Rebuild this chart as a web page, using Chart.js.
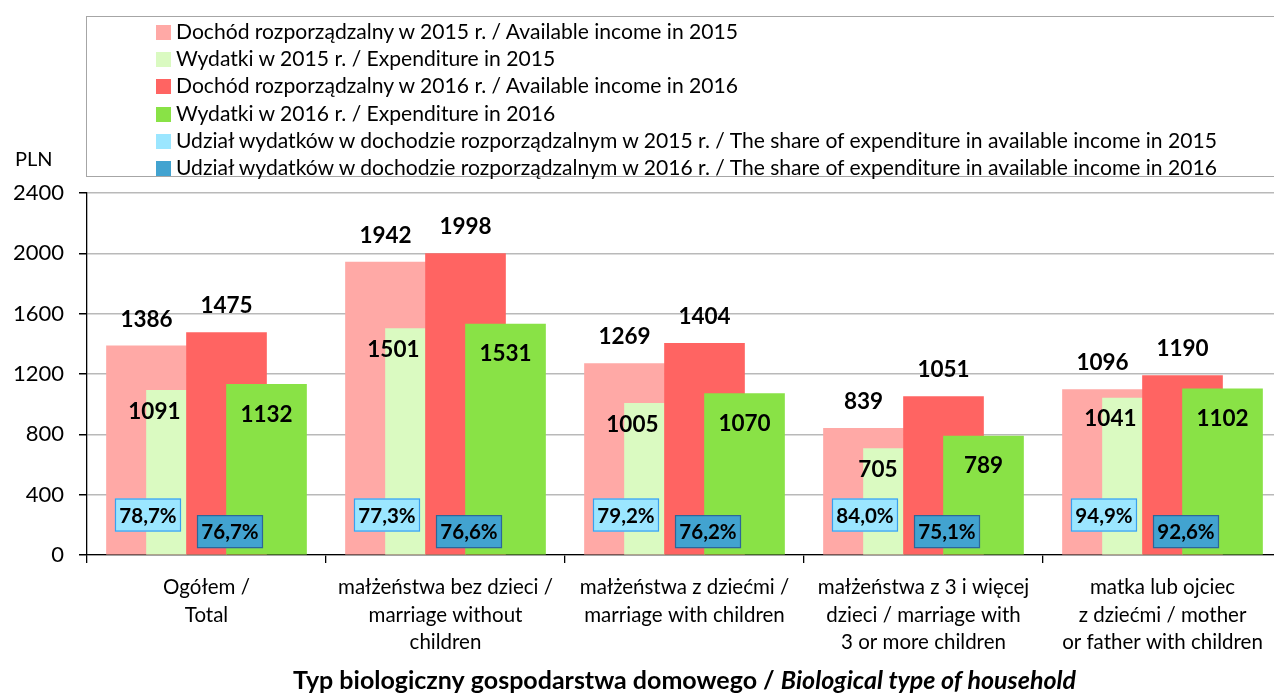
<!DOCTYPE html>
<html>
<head>
<meta charset="utf-8">
<script src="https://cdn.jsdelivr.net/npm/chart.js@4"></script>
<style>
  html, body { margin:0; padding:0; background:#fff; overflow:hidden; }
  #wrap { position:relative; width:1284px; height:695px; }
  #legend { position:absolute; left:86px; top:16px; width:1300px; height:161px; border:1px solid #a6a6a6; box-sizing:border-box; font-family:Lato, "Open Sans", sans-serif; font-size:21.1px; color:#000; }
  .row { position:absolute; left:69px; height:27px; line-height:27px; white-space:nowrap; }
  .sw { display:inline-block; width:15px; height:15px; vertical-align:-1px; margin-right:5px; }
  canvas { position:absolute; left:0; top:0; }
</style>
</head>
<body>
<div id="wrap">
  <canvas id="c" width="1284" height="695"></canvas>
  <div id="legend"></div>
</div>
<script>
// ---- data ----
const categories = [
  ["Ogółem /", "Total"],
  ["małżeństwa bez dzieci /", "marriage without", "children"],
  ["małżeństwa z dziećmi /", "marriage with children"],
  ["małżeństwa z 3 i więcej", "dzieci / marriage with", "3 or more children"],
  ["matka lub ojciec", "z dziećmi / mother", "or father with children"]
];
const income2015 = [1386, 1942, 1269, 839, 1096];
const expend2015 = [1091, 1501, 1005, 705, 1041];
const income2016 = [1475, 1998, 1404, 1051, 1190];
const expend2016 = [1132, 1531, 1070, 789, 1102];
const share2015 = [78.7, 77.3, 79.2, 84.0, 94.9];
const share2016 = [76.7, 76.6, 76.2, 75.1, 92.6];
const yMin = 0, yMax = 2400, yStep = 400;

const seriesNames = [
  "Dochód rozporządzalny w 2015 r. / Available income in 2015",
  "Wydatki w 2015 r. / Expenditure in 2015",
  "Dochód rozporządzalny w 2016 r. / Available income in 2016",
  "Wydatki w 2016 r. / Expenditure in 2016",
  "Udział wydatków w dochodzie rozporządzalnym w 2015 r. / The share of expenditure in available income in 2015",
  "Udział wydatków w dochodzie rozporządzalnym w 2016 r. / The share of expenditure in available income in 2016"
];
const xTitleA = "Typ biologiczny gospodarstwa domowego / ";
const xTitleB = "Biological type of household";
const yUnit = "PLN";

// ---- styles ----
const C_PINK = '#FFA9A6', C_LGREEN = '#DAFAC1', C_RED = '#FF6462', C_GREEN = '#89E246';
const C_LBLUE = '#9BE6FF', C_LBLUE_B = '#3AA0EE', C_DBLUE = '#42A3D0', C_DBLUE_B = '#2D6699';
const FONT = 'Lato, "Open Sans", sans-serif';
const NARROW = '"Liberation Sans Narrow", "Arial Narrow", Lato, sans-serif';

// legend
const legendColors = [C_PINK, C_LGREEN, C_RED, C_GREEN, C_LBLUE, C_DBLUE];
const lg = document.getElementById('legend');
seriesNames.forEach((n, i) => {
  const r = document.createElement('div');
  r.className = 'row';
  r.style.top = (0 + i * 27.2) + 'px';
  const s = document.createElement('span');
  s.className = 'sw'; s.style.background = legendColors[i];
  r.appendChild(s);
  r.appendChild(document.createTextNode(n));
  lg.appendChild(r);
});

const step = 0.1674; // bar spacing in category units (40px of 239px)
const offs = [-1.5, -0.5, 0.5, 1.5].map(k => k * step);
const toXY = (arr, k) => arr.map((v, i) => ({ x: i + offs[k], y: v }));

const fmtPct = v => v.toFixed(1).replace('.', ',') + '%';

const labelPlugin = {
  id: 'labels',
  afterDatasetsDraw(chart) {
    const ctx = chart.ctx;
    const y = chart.scales.y;
    ctx.save();
    ctx.fillStyle = '#000';
    ctx.font = 'bold 22.5px ' + FONT;
    ctx.textBaseline = 'middle';
    const m0 = chart.getDatasetMeta(0), m1 = chart.getDatasetMeta(1), m2 = chart.getDatasetMeta(2), m3 = chart.getDatasetMeta(3);
    for (let i = 0; i < categories.length; i++) {
      ctx.textAlign = 'center';
      ctx.fillText(String(income2015[i]), m0.data[i].x, m0.data[i].y - 26.5);
      ctx.fillText(String(income2016[i]), m2.data[i].x, m2.data[i].y - 26.5);
      ctx.fillText(String(expend2016[i]), m3.data[i].x, m3.data[i].y + 30);
      ctx.textAlign = 'right';
      ctx.fillText(String(expend2015[i]), m1.data[i].x - 6, m1.data[i].y + 21);
    }
    // share boxes
    const drawBox = (cx, cy, txt, fill, stroke) => {
      const w = 66, h = 33;
      ctx.fillStyle = fill;
      ctx.fillRect(cx - w / 2, cy - h / 2, w, h);
      ctx.strokeStyle = stroke; ctx.lineWidth = 1.2;
      ctx.strokeRect(cx - w / 2 + 0.5, cy - h / 2 + 0.5, w - 1, h - 1);
      ctx.fillStyle = '#000';
      ctx.font = 'bold 20.5px ' + NARROW;
      ctx.textAlign = 'center';
      ctx.fillText(txt, cx, cy + 1);
    };
    const yl = y.getPixelForValue(265), yd = y.getPixelForValue(155);
    for (let i = 0; i < categories.length; i++) {
      drawBox(m0.data[i].x + 1.5, yl, fmtPct(share2015[i]), C_LBLUE, C_LBLUE_B);
      drawBox(m2.data[i].x + 3.5, yd, fmtPct(share2016[i]), C_DBLUE, C_DBLUE_B);
    }
    ctx.restore();
  },
  afterDraw(chart) {
    const ctx = chart.ctx, a = chart.chartArea;
    ctx.save();
    ctx.fillStyle = '#000';
    ctx.textBaseline = 'middle';
    ctx.textAlign = 'left';
    ctx.font = '20px ' + FONT;
    ctx.fillText(yUnit, 15, 160);
    const fs = 25;
    ctx.font = 'bold ' + fs + 'px ' + FONT;
    const wa = ctx.measureText(xTitleA).width;
    ctx.font = 'italic bold ' + fs + 'px ' + FONT;
    const wb = ctx.measureText(xTitleB).width;
    const x0 = (a.left + a.right) / 2 - (wa + wb) / 2;
    ctx.font = 'bold ' + fs + 'px ' + FONT;
    ctx.fillText(xTitleA, x0, 681);
    ctx.font = 'italic bold ' + fs + 'px ' + FONT;
    ctx.fillText(xTitleB, x0 + wa, 681);
    ctx.restore();
  }
};

new Chart(document.getElementById('c'), {
  type: 'bar',
  data: {
    labels: categories,
    datasets: [
      { label: seriesNames[0], data: toXY(income2015, 0), backgroundColor: C_PINK, order: 4 },
      { label: seriesNames[1], data: toXY(expend2015, 1), backgroundColor: C_LGREEN, order: 3 },
      { label: seriesNames[2], data: toXY(income2016, 2), backgroundColor: C_RED, order: 2 },
      { label: seriesNames[3], data: toXY(expend2016, 3), backgroundColor: C_GREEN, order: 1 }
    ].map(d => Object.assign(d, { xAxisID: 'xl', yAxisID: 'y', barThickness: 80, grouped: false, borderWidth: 0 }))
  },
  options: {
    responsive: false,
    animation: false,
    devicePixelRatio: 1,
    layout: { padding: { left: 0, right: 2, top: 193, bottom: 0 } },
    plugins: { legend: { display: false }, tooltip: { enabled: false }, title: { display: false } },
    scales: {
      xl: { type: 'linear', display: false, offset: false, min: -0.5, max: 4.5 },
      x: {
        type: 'category',
        offset: true,
        grid: { offset: true, drawOnChartArea: false, drawTicks: true, tickLength: 8, color: '#000', tickColor: '#000', lineWidth: 1.3 },
        border: { display: true, color: '#000', width: 1.3 },
        ticks: { color: '#000', font: { family: FONT, size: 20.5, lineHeight: 1.33 }, padding: 11, maxRotation: 0, autoSkip: false },
        afterFit(s) { s.height = 140; }
      },
      y: {
        min: yMin, max: yMax,
        ticks: { stepSize: yStep, color: '#000', font: { family: FONT, size: 22 }, padding: 15, callback: v => String(v) },
        grid: { color: '#b9b9b9', lineWidth: 1.5, tickColor: '#000', tickLength: 8 },
        border: { display: true, color: '#000', width: 1.3 },
        afterFit(s) { s.width = 87; }
      }
    }
  },
  plugins: [labelPlugin]
});
</script>
</body>
</html>
